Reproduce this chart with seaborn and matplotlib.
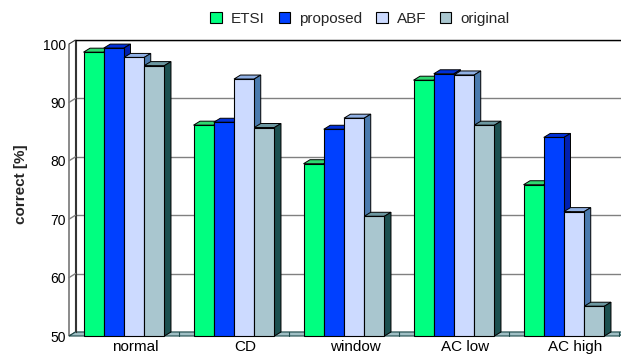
import matplotlib
matplotlib.use("Agg")
import matplotlib.pyplot as plt
import numpy as np
import pandas as pd
import seaborn as sns
from matplotlib.patches import Polygon, Patch
from matplotlib.lines import Line2D
from matplotlib.transforms import ScaledTranslation, IdentityTransform

# ----------------------------------------------------------------------------------------------------------------------
# Data
categories = ["normal", "CD", "window", "AC low", "AC high"]
methods = ["ETSI", "proposed", "ABF", "original"]
etsi = [98.6, 86.1, 79.5, 93.8, 75.9]
proposed = [99.3, 86.6, 85.4, 94.9, 84.0]
abf = [97.7, 94.0, 87.3, 94.7, 71.3]
original = [96.3, 85.7, 70.5, 86.1, 55.1]
y_ticks = [50, 60, 70, 80, 90, 100]

front_colors = ["#00FF80", "#0040FF", "#CCDAFF", "#A9C6CF"]
top_colors = ["#2FD870", "#0030D8", "#90B0E4", "#6C97A0"]
side_colors = ["#00A050", "#0020B0", "#4A7AAE", "#1C5050"]

df = pd.DataFrame({
    "condition": categories * 4,
    "correct": etsi + proposed + abf + original,
    "method": np.repeat(methods, len(categories)),
})

# ----------------------------------------------------------------------------------------------------------------------
# Plot
sns.set_theme(style="white")
plt.rcParams["font.family"] = ["Liberation Sans", "DejaVu Sans"]

W, H, DPI = 621, 356, 100
fig = plt.figure(figsize=(W / DPI, H / DPI), dpi=DPI)
ax = fig.add_axes([75.5 / W, (H - 332) / H, 550 / W, 292 / H])

sns.barplot(data=df, x="condition", y="correct", hue="method", hue_order=methods,
            palette=front_colors, width=0.736, edgecolor="black", linewidth=0.8,
            saturation=1, ax=ax, legend=False)
# seaborn draws the bars hue by hue
bars = [(i // len(categories), b) for i, b in enumerate(list(ax.patches))]

ax.set_xlim(-0.5, 4.5)
ax.set_ylim(50, 100)
ax.set_yticks(y_ticks)
ax.set_xlabel("")
ax.set_ylabel("")
ax.grid(axis="y", color="#808080", lw=1)
ax.set_axisbelow(True)
for s in ["right", "bottom"]:
    ax.spines[s].set_visible(False)
ax.spines["top"].set_color("black")
ax.spines["top"].set_linewidth(1)
ax.spines["left"].set_color("#333333")
ax.spines["left"].set_linewidth(0.8)

# depth of the pseudo-3D effect (pixels)
dx, dy = 6.5, 4.0
front_shift = ScaledTranslation(-dx / DPI, -dy / DPI, fig.dpi_scale_trans)
ident = IdentityTransform()


def disp(x, y):
    return ax.transData.transform((x, y))


# left wall and floor
bl, tl = disp(-0.5, 50), disp(-0.5, 100)
br = disp(4.5, 50)
wall = Polygon([(bl[0] - dx, bl[1] - dy), (tl[0] - dx, tl[1] - dy), tl, bl], closed=True,
               facecolor="white", edgecolor="#333333", lw=0.8, transform=ident, clip_on=False, zorder=1.5)
ax.add_artist(wall)
for v in y_ticks[1:-1]:
    p = disp(-0.5, v)
    ax.add_artist(Line2D([p[0] - dx, p[0]], [p[1] - dy, p[1]], color="#808080", lw=1,
                         transform=ident, clip_on=False, zorder=1.6))
floor = Polygon([(bl[0] - dx, bl[1] - dy), (br[0] - dx, br[1] - dy), br, bl], closed=True,
                facecolor="#9FBFC4", edgecolor="#1C4A4A", lw=0.8, transform=ident, clip_on=False, zorder=1.7)
ax.add_artist(floor)
for k in range(len(categories)):
    p = disp(k + 0.5, 50)
    ax.add_artist(Line2D([p[0] - dx, p[0] - dx], [p[1] - dy, p[1]], color="#1C4A4A", lw=0.8,
                         transform=ident, clip_on=False, zorder=1.8))

# bars: front face shifted, top and side faces added
bars.sort(key=lambda t: t[1].get_x())
for k, (hue_idx, b) in enumerate(bars):
    top = b.get_height()
    b.set_y(50)
    b.set_height(top - 50)
    b.set_transform(ax.transData + front_shift)
    b.set_clip_on(False)
    z = 3 + 2 * k
    b.set_zorder(z + 1)
    x0, y0 = disp(b.get_x(), 50)
    x1, y1 = disp(b.get_x() + b.get_width(), top)
    top_face = Polygon([(x0 - dx, y1 - dy), (x1 - dx, y1 - dy), (x1, y1), (x0, y1)], closed=True,
                       facecolor=top_colors[hue_idx], edgecolor="black", lw=0.7,
                       transform=ident, clip_on=False, zorder=z)
    side_face = Polygon([(x1 - dx, y0 - dy), (x1 - dx, y1 - dy), (x1, y1), (x1, y0)], closed=True,
                        facecolor=side_colors[hue_idx], edgecolor="black", lw=0.7,
                        transform=ident, clip_on=False, zorder=z)
    ax.add_artist(top_face)
    ax.add_artist(side_face)

# tick labels
ax.tick_params(axis="y", length=0, pad=2, labelsize=10, labelcolor="black")
ax.tick_params(axis="x", length=0, pad=5.5, labelsize=11, labelcolor="black")
for lab in ax.get_yticklabels():
    lab.set_transform(lab.get_transform() + front_shift)
x_shift = ScaledTranslation(4.5 / DPI, 0, fig.dpi_scale_trans)
for lab in ax.get_xticklabels():
    lab.set_transform(lab.get_transform() + x_shift)

fig.text(21 / W, 1 - 184 / H, "correct [%]", rotation=90, ha="center", va="center",
         fontsize=11, fontweight="bold")

handles = [Patch(facecolor=c, edgecolor="black", lw=0.8) for c in front_colors]
fig.legend(handles, methods, ncol=4, loc="center", bbox_to_anchor=(360 / W, 1 - 19 / H),
           frameon=False, fontsize=11, handlelength=0.75, handleheight=0.75,
           handletextpad=0.6, columnspacing=0.9, borderaxespad=0)

fig.savefig("out.png", dpi=DPI)
